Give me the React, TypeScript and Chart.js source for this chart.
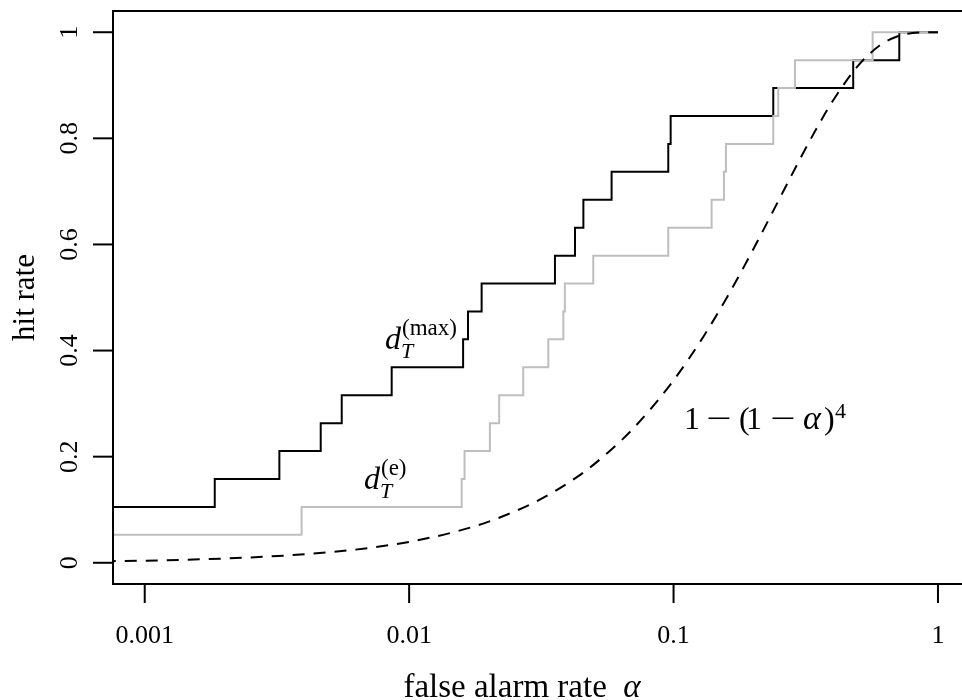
import React, { useEffect, useRef } from "react";
import { Chart, registerables } from "chart.js";

Chart.register(...registerables);

// d_T^(max) step curve: false alarm rate where each step occurs, hit rate after the step
const maxAlpha = [0.0007, 0.00184, 0.00323, 0.00463, 0.00556, 0.00859, 0.016, 0.0167, 0.0188, 0.0356, 0.0424, 0.0456, 0.0583, 0.0955, 0.0975, 0.2383, 0.478, 0.714, 1.0];
const maxHit = [0.1053, 0.1579, 0.2105, 0.2632, 0.3158, 0.3684, 0.4211, 0.4737, 0.5263, 0.5789, 0.6316, 0.6842, 0.7368, 0.7895, 0.8421, 0.8947, 0.9474, 1.0, 1.0];

// d_T^(e) step curve
const eAlpha = [0.0007, 0.00392, 0.0158, 0.0162, 0.0202, 0.0219, 0.027, 0.0336, 0.0383, 0.0388, 0.0497, 0.0955, 0.1393, 0.1551, 0.1578, 0.2383, 0.2489, 0.2878, 0.5662, 1.0];
const eHit = [0.0526, 0.1053, 0.1579, 0.2105, 0.2632, 0.3158, 0.3684, 0.4211, 0.4737, 0.5263, 0.5789, 0.6316, 0.6842, 0.7368, 0.7895, 0.8421, 0.8947, 0.9474, 1.0, 1.0];

// dashed reference curve 1-(1-alpha)^4
const refAlpha = [0.0007, 0.001, 0.002, 0.003, 0.005, 0.007, 0.01, 0.015, 0.02, 0.03, 0.04, 0.05, 0.07, 0.1, 0.13, 0.16, 0.2, 0.25, 0.3, 0.35, 0.4, 0.5, 0.6, 0.7, 0.8, 0.9, 1.0];
const refHit = [0.0028, 0.004, 0.008, 0.012, 0.0199, 0.0277, 0.0394, 0.0587, 0.0776, 0.1147, 0.1507, 0.1855, 0.2519, 0.3439, 0.4271, 0.5021, 0.5904, 0.6836, 0.7599, 0.8215, 0.8704, 0.9375, 0.9744, 0.9919, 0.9984, 0.9999, 1.0];

const xTicks = [0.001, 0.01, 0.1, 1];
const xTickLabels = ["0.001", "0.01", "0.1", "1"];
const yTicks = [0, 0.2, 0.4, 0.6, 0.8, 1];
const yTickLabels = ["0", "0.2", "0.4", "0.6", "0.8", "1"];

const xLabel = "false alarm rate";
const yLabel = "hit rate";

const SERIF = '"Liberation Serif", "DejaVu Serif", serif';

function pts(xs: number[], ys: number[]) {
  return xs.map((x, i) => ({ x, y: ys[i] }));
}

const overlayPlugin = {
  id: "overlay",
  afterDraw(chart: any) {
    const { ctx, chartArea: a, scales } = chart;
    const xs = scales.x;
    const ys = scales.y;
    ctx.save();
    ctx.strokeStyle = "#000";
    ctx.fillStyle = "#000";
    ctx.lineWidth = 2;
    ctx.strokeRect(a.left, a.top, a.right - a.left, a.bottom - a.top);

    ctx.lineWidth = 2;
    ctx.font = `26px ${SERIF}`;
    ctx.textAlign = "center";
    ctx.textBaseline = "alphabetic";
    xTicks.forEach((v, i) => {
      const px = xs.getPixelForValue(v);
      ctx.beginPath();
      ctx.moveTo(px, a.bottom);
      ctx.lineTo(px, a.bottom + 19);
      ctx.stroke();
      ctx.fillText(xTickLabels[i], px, a.bottom + 59);
    });
    yTicks.forEach((v, i) => {
      const py = ys.getPixelForValue(v);
      ctx.beginPath();
      ctx.moveTo(a.left, py);
      ctx.lineTo(a.left - 20, py);
      ctx.stroke();
      ctx.save();
      ctx.translate(a.left - 36, py);
      ctx.rotate(-Math.PI / 2);
      ctx.fillText(yTickLabels[i], 0, 0);
      ctx.restore();
    });

    // axis titles
    const xf = `33px ${SERIF}`;
    const xfi = `italic 33px ${SERIF}`;
    ctx.font = xf;
    const cx = 522;
    const w1 = ctx.measureText(xLabel + "  ").width;
    ctx.font = xfi;
    const w2 = ctx.measureText("α").width;
    const startX = cx - (w1 + w2) / 2;
    ctx.textAlign = "left";
    ctx.font = xf;
    ctx.fillText(xLabel, startX, 697);
    ctx.font = xfi;
    ctx.fillText("α", startX + w1, 697);

    ctx.save();
    ctx.font = `31px ${SERIF}`;
    ctx.textAlign = "center";
    ctx.translate(34, (a.top + a.bottom) / 2);
    ctx.rotate(-Math.PI / 2);
    ctx.fillText(yLabel, 0, 0);
    ctx.restore();

    // in-plot annotations
    ctx.textAlign = "left";
    const put = (t: string, x: number, y: number, font: string) => {
      ctx.font = font;
      ctx.fillText(t, x, y);
    };
    const minus = (x: number, y: number, font: string) => {
      ctx.save();
      ctx.font = font;
      ctx.translate(x, y);
      ctx.scale(1.4, 1);
      ctx.fillText("−", 0, 0);
      ctx.restore();
    };
    put("d", 385, 349, `italic 32px ${SERIF}`);
    put("T", 401, 358, `italic 22px ${SERIF}`);
    put("(max)", 402, 335, `23px ${SERIF}`);

    put("d", 364, 489, `italic 32px ${SERIF}`);
    put("T", 380, 498, `italic 22px ${SERIF}`);
    put("(e)", 381, 475, `23px ${SERIF}`);

    const f = `32px ${SERIF}`;
    put("1", 684, 429, f);
    minus(706, 429, f);
    put("(", 739, 429, f);
    put("1", 746, 429, f);
    minus(770, 429, f);
    put("α", 803, 429, `italic 34px ${SERIF}`);
    put(")", 824, 429, f);
    put("4", 835, 418, `22px ${SERIF}`);

    ctx.restore();
  },
};

export default function App() {
  const ref = useRef<HTMLCanvasElement | null>(null);
  useEffect(() => {
    if (!ref.current) return;
    const chart = new Chart(ref.current, {
      type: "line",
      data: {
        datasets: [
          {
            label: "1-(1-alpha)^4",
            data: pts(refAlpha, refHit),
            borderColor: "#000",
            borderWidth: 2,
            borderDash: [12, 9],
            pointRadius: 0,
            cubicInterpolationMode: "monotone",
            fill: false,
          },
          {
            label: "d_T^(e)",
            data: pts(eAlpha, eHit),
            borderColor: "#bebebe",
            borderWidth: 2,
            pointRadius: 0,
            stepped: "before",
            fill: false,
          },
          {
            label: "d_T^(max)",
            data: pts(maxAlpha, maxHit),
            borderColor: "#000",
            borderWidth: 2,
            pointRadius: 0,
            stepped: "before",
            fill: false,
          },
        ],
      },
      options: {
        animation: false,
        responsive: false,
        devicePixelRatio: 1,
        layout: { padding: { left: 113, right: 2.3, top: 11, bottom: 116 } },
        plugins: { legend: { display: false }, tooltip: { enabled: false } },
        events: [],
        scales: {
          x: { type: "logarithmic", min: 0.0007586, max: 1.3183, display: false },
          y: { type: "linear", min: -0.04, max: 1.04, display: false },
        },
      },
      plugins: [overlayPlugin],
    });
    return () => chart.destroy();
  }, []);
  return (
    <div
      style={{
        position: "fixed",
        left: 0,
        top: 0,
        width: 962,
        height: 700,
        overflow: "hidden",
        background: "#fff",
      }}
    >
      <canvas ref={ref} width={972} height={700} style={{ width: 972, height: 700, display: "block" }} />
    </div>
  );
}
